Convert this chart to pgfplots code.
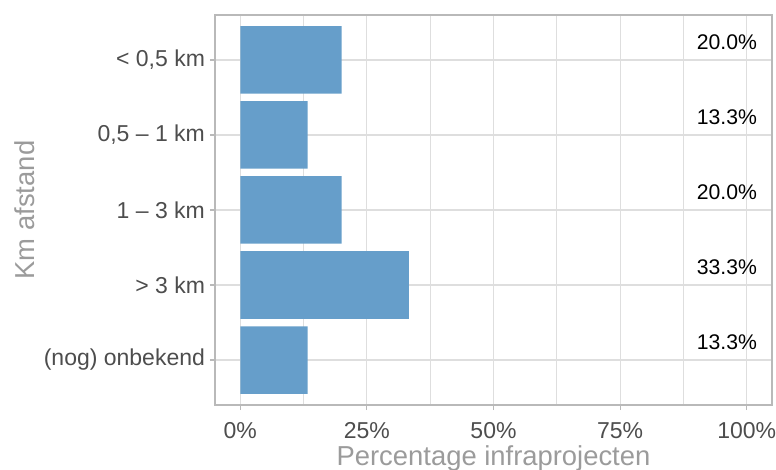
\documentclass[border=0pt]{standalone}
\usepackage{fontspec}
\setmainfont{Liberation Sans}
\usepackage{pgfplots}
\pgfplotsset{compat=1.18}
\definecolor{barblue}{RGB}{102,158,202}
\definecolor{gridc}{RGB}{222,222,222}
\definecolor{borderc}{RGB}{185,185,185}
\definecolor{tickc}{RGB}{77,77,77}
\definecolor{titlec}{RGB}{155,155,155}
\begin{document}
\begin{tikzpicture}
\useasboundingbox (-107.5pt,-32.5pt) rectangle (280.5pt,202.5pt);
\begin{axis}[
  at={(0,0)}, anchor=south west,
  scale only axis, width=278.5pt, height=195pt,
  xmin=-5, xmax=105, ymin=0.4, ymax=5.6, y dir=reverse,
  xtick={0,25,50,75,100},
  xticklabels={0\%,25\%,50\%,75\%,100\%},
  minor xtick={12.5,37.5,62.5,87.5},
  ytick={1,2,3,4,5},
  yticklabels={{< 0,5 km},{0,5 – 1 km},{1 – 3 km},{> 3 km},{(nog) onbekend}},
  xmajorgrids, ymajorgrids, xminorgrids,
  major grid style={gridc, line width=0.55pt},
  minor grid style={gridc, line width=0.3pt},
  axis line style={borderc, line width=0.55pt},
  tick style={borderc, line width=0.55pt},
  major tick length=2.5pt, minor tick length=0pt,
  tick align=outside, xtick pos=bottom, ytick pos=left,
  ticklabel style={font=\fontsize{11.5}{13}\selectfont, text=tickc},
  xticklabel style={yshift=-2.5pt},
  yticklabel style={xshift=1pt},
  /pgf/number format/assume math mode=true,
  xlabel={Percentage infraprojecten},
  ylabel={Km afstand},
  label style={font=\fontsize{13.7}{16}\selectfont, text=titlec},
  xlabel style={at={(axis description cs:0.5,0)}, anchor=center, yshift=-26.5pt},
  ylabel style={at={(axis description cs:0,0.5)}, anchor=center, rotate=0, yshift=95pt},
  clip=false,
]
\addplot[xbar, bar width=0.9, fill=barblue, draw=none] coordinates {
  (20.0,1) (13.3,2) (20.0,3) (33.3,4) (13.3,5)
};
\addplot[only marks, mark=none, nodes near coords, point meta=explicit symbolic,
  nodes near coords align=center,
  nodes near coords style={font=\fontsize{10.6}{12}\selectfont, text=black}]
  coordinates {
  (96.1,0.765) [20.0\%]
  (96.1,1.765) [13.3\%]
  (96.1,2.765) [20.0\%]
  (96.1,3.765) [33.3\%]
  (96.1,4.765) [13.3\%]
};
\end{axis}
\end{tikzpicture}
\end{document}
